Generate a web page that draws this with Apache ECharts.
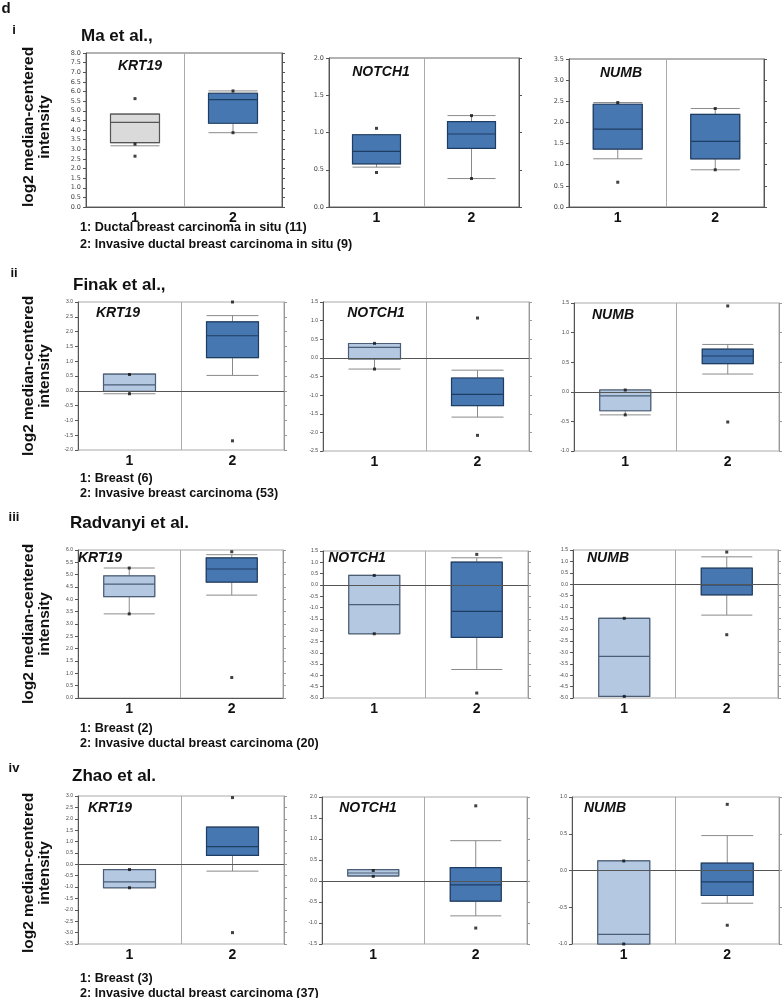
<!DOCTYPE html>
<html><head><meta charset="utf-8">
<script src="https://cdn.jsdelivr.net/npm/echarts@6/dist/echarts.min.js"></script>
<style>html,body{margin:0;padding:0;background:#fff}#c{width:783px;height:998px}</style>
</head><body><div id="c"></div>
<script>
// ---------- DATA ----------
const categories = ['1', '2'];
const genes = ['KRT19', 'NOTCH1', 'NUMB'];
const rowLetters = ['i', 'ii', 'iii', 'iv'];
const studyTitles = ['Ma et al.,', 'Finak et al.,', 'Radvanyi et al.', 'Zhao et al.'];
const legendRow1 = ['1: Ductal breast carcinoma in situ (11)', '2: Invasive ductal breast carcinoma in situ (9)'];
const legendRow2 = ['1: Breast (6)', '2: Invasive breast carcinoma (53)'];
const legendRow3 = ['1: Breast (2)', '2: Invasive ductal breast carcinoma (20)'];
const legendRow4 = ['1: Breast (3)', '2: Invasive ductal breast carcinoma (37)'];
const yAxisTitle = ['log2 median-centered', 'intensity'];

// box values: [lower whisker, Q1, median, Q3, upper whisker]
const ma_KRT19_box = [[3.18, 3.34, 4.40, 4.82, 4.82], [3.86, 4.35, 5.58, 5.91, 6.03]];
const ma_KRT19_pts = [[0, 5.63], [0, 3.27], [0, 2.64], [1, 6.03], [1, 3.86]];
const ma_NOTCH1_box = [[0.535, 0.58, 0.746, 0.97, 0.97], [0.382, 0.787, 0.98, 1.146, 1.227]];
const ma_NOTCH1_pts = [[0, 1.056], [0, 0.463], [1, 1.227], [1, 0.382]];
const ma_NUMB_box = [[1.14, 1.37, 1.84, 2.43, 2.47], [0.88, 1.14, 1.55, 2.19, 2.33]];
const ma_NUMB_pts = [[0, 2.47], [0, 0.586], [1, 2.33], [1, 0.88]];

const fi_KRT19_box = [[-0.10, -0.02, 0.20, 0.56, 0.56], [0.52, 1.12, 1.86, 2.33, 2.54]];
const fi_KRT19_pts = [[0, 0.55], [0, -0.10], [1, 3.0], [1, -1.69]];
const fi_NOTCH1_box = [[-0.30, -0.03, 0.28, 0.386, 0.386], [-1.59, -1.28, -0.98, -0.54, -0.33]];
const fi_NOTCH1_pts = [[0, 0.39], [0, -0.30], [1, 1.07], [1, -2.08]];
const fi_NUMB_box = [[-0.39, -0.32, -0.07, 0.03, 0.03], [0.30, 0.475, 0.605, 0.72, 0.80]];
const fi_NUMB_pts = [[0, 0.03], [0, -0.39], [1, 1.45], [1, -0.51]];

const ra_KRT19_box = [[3.41, 4.11, 4.62, 4.95, 5.27], [4.17, 4.70, 5.23, 5.68, 5.81]];
const ra_KRT19_pts = [[0, 5.27], [0, 3.41], [1, 5.93], [1, 0.83]];
const ra_NOTCH1_box = [[-2.16, -2.16, -0.87, 0.42, 0.42], [-3.74, -2.32, -1.17, 1.01, 1.20]];
const ra_NOTCH1_pts = [[0, 0.42], [0, -2.16], [1, 1.35], [1, -4.78]];
const ra_NUMB_box = [[-4.93, -4.93, -3.17, -1.50, -1.50], [-1.36, -0.47, -0.03, 0.70, 1.20]];
const ra_NUMB_pts = [[0, -1.50], [0, -4.93], [1, 1.41], [1, -2.22]];

const zh_KRT19_box = [[-1.03, -1.03, -0.77, -0.23, -0.23], [-0.30, 0.39, 0.78, 1.63, 1.63]];
const zh_KRT19_pts = [[0, -0.23], [0, -1.03], [1, 2.93], [1, -3.0]];
const zh_NOTCH1_box = [[0.12, 0.12, 0.19, 0.27, 0.27], [-0.83, -0.48, -0.09, 0.32, 0.96]];
const zh_NOTCH1_pts = [[0, 0.25], [0, 0.11], [1, 1.79], [1, -1.12]];
const zh_NUMB_box = [[-1.0, -1.0, -0.87, 0.13, 0.13], [-0.445, -0.34, -0.155, 0.10, 0.475]];
const zh_NUMB_pts = [[0, 0.13], [0, -1.0], [1, 0.90], [1, -0.745]];

// y axis ranges [min, max, interval]
const ma_ranges = [[0, 8, 0.5], [0, 2, 0.5], [0, 3.5, 0.5]];
const fi_ranges = [[-2, 3, 0.5], [-2.5, 1.5, 0.5], [-1, 1.5, 0.5]];
const ra_ranges = [[0, 6, 0.5], [-5, 1.5, 0.5], [-5, 1.5, 0.5]];
const zh_ranges = [[-3.5, 3, 0.5], [-1.5, 2, 0.5], [-1, 1, 0.5]];

// ---------- LAYOUT ----------
const gridRects = [
  [[86, 53, 196, 154], [329, 58, 190, 149], [569, 59, 195, 148]],
  [[78, 302, 206, 148], [323, 302, 206, 149], [574, 303, 205, 148]],
  [[78, 550, 205, 148], [323, 551, 205, 147], [573, 550, 205, 148]],
  [[78, 796, 206, 148], [322, 797, 205, 147], [572, 797, 207, 147]]
];
const geneLabelPos = [
  [[140, 66], [381, 72], [621, 73]],
  [[118, 313], [376, 313], [613, 315]],
  [[100, 558], [357, 558], [608, 558]],
  [[110, 808], [368, 808], [605, 808]]
];
const rowBoxes = [
  [ma_KRT19_box, ma_NOTCH1_box, ma_NUMB_box],
  [fi_KRT19_box, fi_NOTCH1_box, fi_NUMB_box],
  [ra_KRT19_box, ra_NOTCH1_box, ra_NUMB_box],
  [zh_KRT19_box, zh_NOTCH1_box, zh_NUMB_box]
];
const rowPts = [
  [ma_KRT19_pts, ma_NOTCH1_pts, ma_NUMB_pts],
  [fi_KRT19_pts, fi_NOTCH1_pts, fi_NUMB_pts],
  [ra_KRT19_pts, ra_NOTCH1_pts, ra_NUMB_pts],
  [zh_KRT19_pts, zh_NOTCH1_pts, zh_NUMB_pts]
];
const rowRanges = [ma_ranges, fi_ranges, ra_ranges, zh_ranges];
const rowLegends = [legendRow1, legendRow2, legendRow3, legendRow4];
const rowLetterPos = [[14, 30], [14, 273], [14, 517], [14, 768]];
const rowTitlePos = [[81, 36], [73, 285], [70, 523], [72, 776]];
const legendY = [[228, 245], [479, 494], [729, 744], [979, 994]];
const yTitleCY = [127, 376, 624, 873];

const BLUE = '#4677b1', LIGHT = '#b4c8e1', GRAY = '#dadada';
const FF = 'Liberation Sans, Arial, sans-serif';

const grids = [], xAxes = [], yAxes = [], series = [], graphic = [];
let gi = 0;
for (let r = 0; r < 4; r++) {
  for (let c = 0; c < 3; c++) {
    const [L, T, W, H] = gridRects[r][c];
    const [mn, mx, iv] = rowRanges[r][c];
    const bw = Math.round(W / 2 * 0.5);
    const firstFill = (r === 0) ? (c === 0 ? GRAY : BLUE) : LIGHT;
    const fills = [firstFill, BLUE];
    const darkBorder = [(r === 0 && c === 0) ? '#555' : (r === 0 ? '#1f3c63' : '#4a5e78'), '#1f3c63'];
    grids.push({left: L, top: T, width: W, height: H, show: true, borderColor: r === 0 ? '#666' : '#aaa', borderWidth: 1, backgroundColor: 'transparent'});
    xAxes.push({type: 'category', gridIndex: gi, data: categories,
      axisLine: {lineStyle: {color: '#555', width: 1}},
      axisTick: {length: 4, lineStyle: {color: '#555'}},
      axisLabel: {fontWeight: 'bold', fontSize: 14, color: '#111', margin: 4, fontFamily: FF},
      splitLine: {show: true, lineStyle: {color: '#aaa', width: 1}}});
    xAxes.push({type: 'category', gridIndex: gi, data: categories, show: false});
    const small = r === 0 ? 6.5 : 5;
    yAxes.push({type: 'value', gridIndex: gi, min: mn, max: mx, interval: iv, position: 'left',
      axisLine: {show: true, onZero: false, lineStyle: {color: '#555'}},
      axisTick: {show: true, length: 3, lineStyle: {color: '#555'}},
      axisLabel: {fontSize: small, color: '#444', margin: 5, fontFamily: r === 0 ? 'DejaVu Sans' : FF,
        formatter: v => v.toFixed(1)},
      splitLine: {show: false}});
    yAxes.push({type: 'value', gridIndex: gi, min: mn, max: mx, interval: iv, position: 'right',
      axisLine: {show: true, onZero: false, lineStyle: {color: r === 0 ? '#555' : '#999'}},
      axisTick: {show: true, length: 3, lineStyle: {color: r === 0 ? '#555' : '#999'}},
      axisLabel: {show: false}, splitLine: {show: false}});
    const box = rowBoxes[r][c];
    series.push({type: 'boxplot', xAxisIndex: 2 * gi, yAxisIndex: 2 * gi, boxWidth: [bw, bw],
      silent: true,
      data: box.map((b, k) => ({value: b, itemStyle: {color: fills[k], borderColor: '#8a8a8a', borderWidth: 1}}))});
    series.push({type: 'boxplot', xAxisIndex: 2 * gi + 1, yAxisIndex: 2 * gi, boxWidth: [bw, bw],
      silent: true, z: 3,
      data: box.map((b, k) => ({value: [b[1], b[1], b[2], b[3], b[3]], itemStyle: {color: fills[k], borderColor: darkBorder[k], borderWidth: 1.2}}))});
    const sc = {type: 'scatter', xAxisIndex: 2 * gi, yAxisIndex: 2 * gi, symbol: 'rect', symbolSize: 3,
      itemStyle: {color: '#111'}, z: 5, silent: true, data: rowPts[r][c]};
    if (mn < 0) {
      sc.markLine = {silent: true, symbol: 'none', label: {show: false},
        lineStyle: {color: '#555', type: 'solid', width: 1}, data: [{yAxis: 0}]};
    }
    series.push(sc);
    const [gx, gy] = geneLabelPos[r][c];
    graphic.push({type: 'text', style: {x: gx, y: gy, text: genes[c], textAlign: 'center', textVerticalAlign: 'middle',
      font: 'italic bold 14px ' + FF, fill: '#111'}});
    gi++;
  }
  graphic.push({type: 'text', style: {x: rowLetterPos[r][0], y: rowLetterPos[r][1], text: rowLetters[r], textAlign: 'center', textVerticalAlign: 'middle', font: 'bold 13px ' + FF, fill: '#111'}});
  graphic.push({type: 'text', style: {x: rowTitlePos[r][0], y: rowTitlePos[r][1], text: studyTitles[r], textAlign: 'left', textVerticalAlign: 'middle', font: 'bold 17px ' + FF, fill: '#111'}});
  rowLegends[r].forEach((t, k) => {
    graphic.push({type: 'text', style: {x: 80, y: legendY[r][k], text: t, textAlign: 'left', textVerticalAlign: 'middle', font: 'bold 12.6px ' + FF, fill: '#111'}});
  });
  graphic.push({type: 'text', x: 29, y: yTitleCY[r], rotation: Math.PI / 2, style: {x: 0, y: 0, text: yAxisTitle[0], textAlign: 'center', textVerticalAlign: 'middle', font: 'bold 15.5px ' + FF, fill: '#111'}});
  graphic.push({type: 'text', x: 45, y: yTitleCY[r], rotation: Math.PI / 2, style: {x: 0, y: 0, text: yAxisTitle[1], textAlign: 'center', textVerticalAlign: 'middle', font: 'bold 15.5px ' + FF, fill: '#111'}});
}
graphic.push({type: 'text', style: {x: 6, y: 9, text: 'd', textAlign: 'center', textVerticalAlign: 'middle', font: 'bold 15px ' + FF, fill: '#111'}});

const chart = echarts.init(document.getElementById('c'), null, {renderer: 'canvas'});
chart.setOption({animation: false, backgroundColor: '#fff', grid: grids, xAxis: xAxes, yAxis: yAxes, series: series, graphic: graphic});
</script></body></html>
